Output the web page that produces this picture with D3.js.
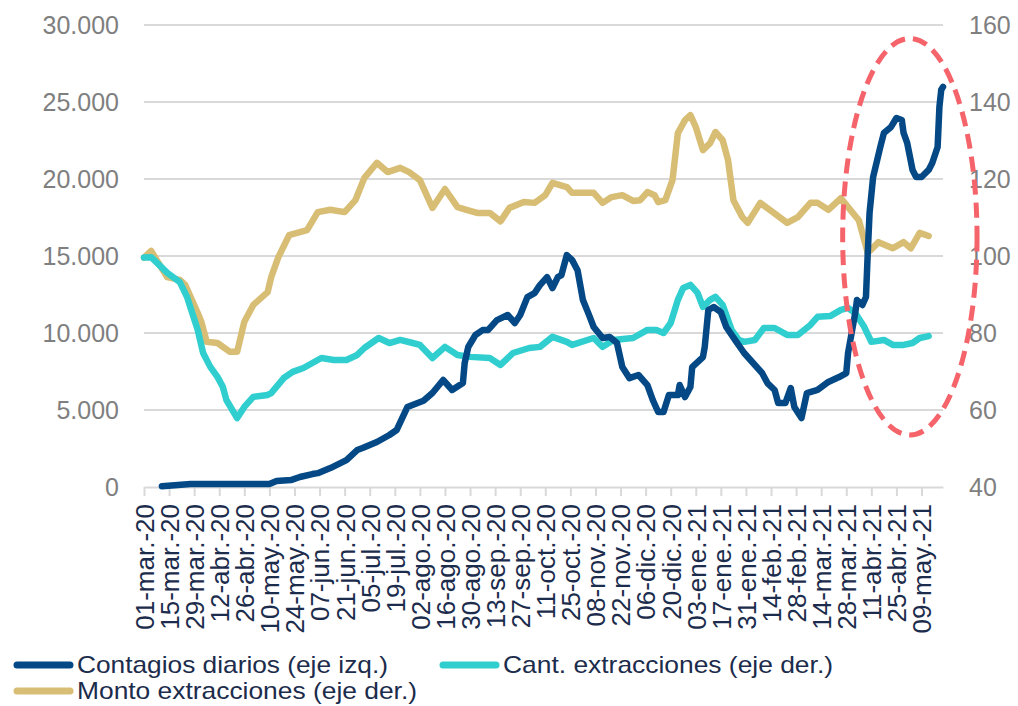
<!DOCTYPE html>
<html>
<head>
<meta charset="utf-8">
<script src="https://cdn.jsdelivr.net/npm/d3@7"></script>
<style>
  body { margin: 0; background: #fff; }
  svg { font-family: "Liberation Sans", Arial, sans-serif; }
</style>
</head>
<body>
<div id="chart"></div>
<script>
// dias desde 01-mar-20
var tickLabels = ["01-mar.-20","15-mar.-20","29-mar.-20","12-abr.-20","26-abr.-20","10-may.-20","24-may.-20",
  "07-jun.-20","21-jun.-20","05-jul.-20","19-jul.-20","02-ago.-20","16-ago.-20","30-ago.-20","13-sep.-20",
  "27-sep.-20","11-oct.-20","25-oct.-20","08-nov.-20","22-nov.-20","06-dic.-20","20-dic.-20","03-ene.-21",
  "17-ene.-21","31-ene.-21","14-feb.-21","28-feb.-21","14-mar.-21","28-mar.-21","11-abr.-21","25-abr.-21","09-may.-21"];
var leftLabels = ["0","5.000","10.000","15.000","20.000","25.000","30.000"];
var rightLabels = ["40","60","80","100","120","140","160"];

var contagiosDias = [10,26,70,74,82,87,94,97,104,113,119,122,130,137,141,147,156,161,167,172,178,179,181,185,189,192,197,203,207,210,
  214,218,221,225,228,231,233,236,239,242,245,248,251,256,260,264,267,271,276,281,284,287,290,293,298,299,302,305,306,312,313,315,318,
  322,325,330,335,340,345,348,352,354,358,361,363,367,370,376,382,388,392,393,395,397,398,401,403,404,405,407,411,413,417,420,423,424,
  426,429,431,434,438,440,443,444,445,446];
var contagiosValores = [50,200,200,390,450,650,840,900,1230,1750,2400,2530,2920,3375,3700,5190,5600,6100,6950,6300,6750,8050,9090,9870,10190,10190,
  10840,11170,10650,11170,12330,12590,13110,13630,12920,13630,13760,15060,14730,14080,12140,11290,10390,9670,9740,9350,7790,7070,7270,6620,
  5650,4870,4870,5970,5970,6620,5840,6490,7790,8440,9090,11490,11690,11360,10390,9540,8700,8050,7400,6750,6300,5450,5450,6430,5200,4480,
  6100,6300,6820,7140,7400,8700,10000,11300,12140,11820,12340,15200,17790,20130,22080,22990,23380,23960,23830,22990,22340,20590,20130,
  20130,20590,21040,22080,24680,25780,25980];

var cantDias = [0,4,13,20,24,30,33,37,41,44,46,52,56,61,69,71,78,83,89,94,99,106,113,119,123,131,137,143,150,154,161,168,175,182,193,199,
  206,215,221,228,236,239,251,256,262,273,281,286,290,294,298,301,305,309,312,316,319,323,328,332,335,341,346,352,359,365,372,376,383,389,
  393,397,402,406,413,418,424,429,433,438];
var cantValores = [99.6,99.7,95.6,93.2,89.4,80.8,74.8,71.2,68.6,66,62.6,57.9,60.8,63.4,63.9,64.4,68.3,69.9,70.9,72.2,73.5,73,73,74.3,76.1,
  78.7,77.4,78.2,77.4,76.9,73.5,76.4,74.3,73.8,73.5,71.7,74.8,76.1,76.4,79,77.7,76.9,78.7,76.4,78.2,78.7,80.8,80.8,80,82.6,88.6,91.7,92.5,
  90.4,86.8,88.6,89.4,87.3,80.8,78.2,77.7,78.2,81.3,81.3,79.5,79.5,82.1,84.2,84.4,86,86.5,85.2,81.6,77.7,78.2,76.9,76.9,77.4,78.7,79.2];

var montoDias = [0,4,13,20,23,30,32,35,41,48,52,56,61,69,71,75,81,91,97,104,112,118,123,130,136,143,148,154,161,168,175,180,186,193,199,
  204,212,218,224,228,236,239,251,256,261,267,273,277,281,285,287,291,295,298,302,305,308,312,316,319,323,326,329,334,337,339,344,351,359,
  365,372,376,382,389,393,399,404,410,418,424,428,433,438];
var montoValores = [99.6,101.3,94.5,93.8,92.5,85.2,82.9,77.7,77.4,75.1,75.1,82.9,87.3,90.6,94.5,99.7,105.4,106.7,111.4,112,111.4,114.5,120.3,
  124.2,121.8,122.9,121.8,119.7,112.5,117.4,112.7,112,111.2,111.2,109,112.5,114,113.8,115.8,119,117.9,116.4,116.4,113.8,115.3,115.8,114.3,
  114.5,116.6,115.8,114,114.5,119.7,131.9,135.3,136.6,133.5,127.5,129.3,132.2,130.1,124.9,114.5,110.1,108.6,110.1,113.8,111.4,108.6,110.1,
  113.8,113.8,112,115,112.7,109.3,100.8,103.6,102,103.6,102,106,105.2];

var width = 1018, height = 706;
var plotLeft = 144, plotRight = 943, plotTop = 25, plotBottom = 487;

var svg = d3.select("#chart").append("svg")
  .attr("width", width)
  .attr("height", height);

var x = d3.scaleLinear().domain([0, 446]).range([plotLeft, plotRight]);
var yL = d3.scaleLinear().domain([0, 30000]).range([plotBottom, plotTop]);
var yR = d3.scaleLinear().domain([40, 160]).range([plotBottom, plotTop]);

// grid + etiquetas
var leftTicks = d3.range(0, 30001, 5000);
svg.append("g").selectAll("line")
  .data(leftTicks.slice(1))
  .enter().append("line")
  .attr("x1", plotLeft).attr("x2", plotRight)
  .attr("y1", function(d){ return yL(d); })
  .attr("y2", function(d){ return yL(d); })
  .attr("stroke", "#d9d9d9")
  .attr("stroke-width", 2);

svg.append("g").selectAll("text")
  .data(leftTicks)
  .enter().append("text")
  .attr("x", 119)
  .attr("y", function(d){ return yL(d); })
  .attr("dy", "0.36em")
  .attr("text-anchor", "end")
  .attr("font-size", 25)
  .attr("fill", "#7f7f7f")
  .text(function(d, i){ return leftLabels[i]; });

var rightTicks = d3.range(40, 161, 20);
svg.append("g").selectAll("text")
  .data(rightTicks)
  .enter().append("text")
  .attr("x", 969)
  .attr("y", function(d){ return yR(d); })
  .attr("dy", "0.36em")
  .attr("font-size", 25)
  .attr("fill", "#7f7f7f")
  .text(function(d, i){ return rightLabels[i]; });

// eje x
var x_axis = d3.axisBottom(x)
  .tickValues(d3.range(0, 435, 14))
  .tickFormat(function(d, i){ return tickLabels[i]; })
  .tickSize(9)
  .tickSizeOuter(0);

var g_x = svg.append("g")
  .attr("transform", "translate(0," + plotBottom + ")")
  .call(x_axis);
g_x.select(".domain").attr("stroke", "#d9d9d9").attr("stroke-width", 2);
g_x.selectAll(".tick line").attr("stroke", "#d9d9d9").attr("stroke-width", 2);
g_x.selectAll(".tick text")
  .attr("transform", "rotate(-90)")
  .attr("text-anchor", "end")
  .attr("x", -17)
  .attr("y", 0)
  .attr("dy", "0.36em")
  .attr("font-size", 26)
  .attr("font-family", "Liberation Sans, Arial, sans-serif")
  .attr("fill", "#1c2c4c");

// lineas
function drawLine(dias, valores, scale, color) {
  var pts = dias.map(function(d, i){ return [d, valores[i]]; });
  var line = d3.line()
    .x(function(d){ return x(d[0]); })
    .y(function(d){ return scale(d[1]); });
  svg.append("path")
    .datum(pts)
    .attr("d", line)
    .attr("fill", "none")
    .attr("stroke", color)
    .attr("stroke-width", 6.5)
    .attr("stroke-linejoin", "round")
    .attr("stroke-linecap", "round");
}

drawLine(montoDias, montoValores, yR, "#d8bd75");
drawLine(cantDias, cantValores, yR, "#30cece");
drawLine(contagiosDias, contagiosValores, yL, "#044985");

// elipse roja
svg.append("ellipse")
  .attr("cx", (x(390) + x(465)) / 2)
  .attr("cy", (yR(156.5) + yR(53.5)) / 2)
  .attr("rx", (x(465) - x(390)) / 2)
  .attr("ry", (yR(53.5) - yR(156.5)) / 2)
  .attr("fill", "none")
  .attr("stroke", "#f4646a")
  .attr("stroke-width", 5)
  .attr("stroke-dasharray", "15,8");

// leyenda
var legend = [
  {name: "Contagios diarios (eje izq.)", color: "#044985", x: 17, y: 665, w: 311},
  {name: "Cant. extracciones (eje der.)", color: "#30cece", x: 443, y: 665, w: 330},
  {name: "Monto extracciones (eje der.)", color: "#d8bd75", x: 17, y: 691, w: 340}
];
var lg = svg.append("g").selectAll("g").data(legend).enter().append("g");
lg.append("line")
  .attr("x1", function(d){ return d.x; })
  .attr("x2", function(d){ return d.x + 53; })
  .attr("y1", function(d){ return d.y; })
  .attr("y2", function(d){ return d.y; })
  .attr("stroke", function(d){ return d.color; })
  .attr("stroke-width", 7)
  .attr("stroke-linecap", "round");
lg.append("text")
  .attr("x", function(d){ return d.x + 60; })
  .attr("y", function(d){ return d.y + 8; })
  .attr("font-size", 24)
  .attr("fill", "#1c2c4c")
  .attr("textLength", function(d){ return d.w; })
  .attr("lengthAdjust", "spacingAndGlyphs")
  .text(function(d){ return d.name; });
</script>
</body>
</html>
